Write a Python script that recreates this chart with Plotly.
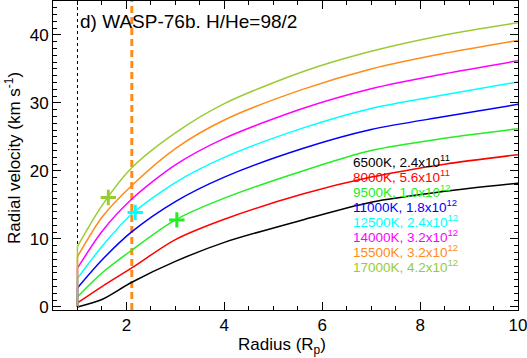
import plotly.graph_objects as go

# ---- data ----
RADIUS = [1.0, 1.5, 2.1, 3.0, 4.0, 5.6, 7.0, 8.5, 10.0]
V_6500 = [0.0, 1.1, 3.6, 6.7, 9.5, 12.8, 15.4, 17.0, 18.2]
V_8000 = [0.6, 3.0, 5.7, 9.9, 12.9, 16.6, 19.1, 21.0, 22.4]
V_9500 = [1.5, 5.0, 8.3, 12.8, 16.0, 20.0, 23.0, 24.8, 26.2]
V_11000 = [2.8, 6.9, 11.0, 15.5, 19.1, 23.3, 26.1, 28.0, 29.8]
V_12500 = [4.2, 8.9, 13.6, 18.3, 22.0, 26.3, 29.2, 31.2, 33.1]
V_14000 = [5.7, 11.1, 15.8, 20.9, 24.8, 29.2, 32.1, 34.3, 36.2]
V_15500 = [7.4, 13.2, 17.8, 23.3, 27.5, 32.0, 35.0, 37.3, 39.2]
V_17000 = [8.9, 14.9, 20.4, 25.6, 29.9, 34.6, 37.6, 40.0, 41.8]

SERIES = [V_6500, V_8000, V_9500, V_11000, V_12500, V_14000, V_15500, V_17000]
LABELS = ["6500K, 2.4x10<sup>11</sup>", "8000K, 5.6x10<sup>11</sup>",
          "9500K, 1.0x10<sup>12</sup>", "11000K, 1.8x10<sup>12</sup>",
          "12500K, 2.4x10<sup>12</sup>", "14000K, 3.2x10<sup>12</sup>",
          "15500K, 3.2x10<sup>12</sup>", "17000K, 4.2x10<sup>12</sup>"]
COLORS = ["#000000", "#FF0000", "#22EE22", "#0000FF",
          "#00FFFF", "#FF00FF", "#FF8C1A", "#99CC33"]

MARK_R = [1.63, 2.18, 3.03]
MARK_V = [16.1, 13.9, 12.8]
MARK_COLORS = ["#99CC33", "#00FFFF", "#22EE22"]

R_PLANET = 1.0
R_DASHED = 2.11
TITLE = "d) WASP-76b. H/He=98/2"

X_RANGE = [0.5, 10.0]
Y_RANGE = [-0.45, 45.0]

FONT = "Liberation Sans, Arial, sans-serif"

fig = go.Figure()

# vertical reference lines
fig.add_trace(go.Scatter(x=[R_PLANET, R_PLANET], y=Y_RANGE, mode="lines",
                         line=dict(color="black", width=1, dash="dot"),
                         hoverinfo="skip", showlegend=False))
fig.add_trace(go.Scatter(x=[R_DASHED, R_DASHED], y=Y_RANGE, mode="lines",
                         line=dict(color="#FF8C1A", width=3, dash="7px,4px"),
                         hoverinfo="skip", showlegend=False))

for vals, col in zip(SERIES, COLORS):
    # initial vertical rise at the planet surface
    fig.add_trace(go.Scatter(x=[RADIUS[0], RADIUS[0]], y=[0, vals[0]], mode="lines",
                             line=dict(color=col, width=1.5), showlegend=False))
    fig.add_trace(go.Scatter(x=RADIUS, y=vals, mode="lines",
                             line=dict(color=col, width=1.5, shape="spline", smoothing=0.8),
                             showlegend=False))

fig.add_trace(go.Scatter(x=MARK_R, y=MARK_V, mode="markers",
                         marker=dict(symbol="cross-thin", size=11,
                                     line=dict(color=MARK_COLORS, width=3)),
                         showlegend=False))

PL, PR, PT, PB = 53, 518, 1, 310
PW, PH = PR - PL, PB - PT

def px(xp):
    return (xp - PL) / PW

def py(yp):
    return (PB - yp) / PH

annotations = [dict(text=TITLE, xref="paper", yref="paper",
                    x=px(78), y=py(22),
                    xanchor="left", yanchor="middle", showarrow=False,
                    font=dict(family=FONT, size=19, color="black"))]

for i, (lab, col) in enumerate(zip(LABELS, COLORS)):
    yy = 161 + 15 * i
    annotations.append(dict(text=lab, xref="paper", yref="paper",
                            x=px(351), y=py(yy),
                            xanchor="left", yanchor="middle", showarrow=False,
                            font=dict(family=FONT, size=13.5, color=col)))

annotations.append(dict(text="Radius (R<sub>p</sub>)", xref="paper", yref="paper",
                        x=px(282), y=py(346), xanchor="center", yanchor="middle",
                        showarrow=False, font=dict(family=FONT, size=17, color="black")))
annotations.append(dict(text="Radial velocity (km s<sup>-1</sup>)", xref="paper", yref="paper",
                        x=px(13), y=py(158), xanchor="center", yanchor="middle",
                        textangle=-90, showarrow=False,
                        font=dict(family=FONT, size=17, color="black")))

fig.update_layout(
    width=527, height=358,
    margin=dict(l=PL, r=527 - PR, t=PT, b=358 - PB, autoexpand=False),
    paper_bgcolor="white", plot_bgcolor="white",
    font=dict(family=FONT, size=17, color="black"),
    annotations=annotations,
    showlegend=False,
)
fig.update_xaxes(range=X_RANGE, tickvals=[2, 4, 6, 8, 10], automargin=False,
                 ticks="inside", ticklen=8, tickwidth=1, tickcolor="black",
                 showline=True, linecolor="black", linewidth=1, mirror="allticks",
                 showgrid=False, zeroline=False, ticklabelstandoff=0,
                 ticklabeloverflow="allow",
                 minor=dict(dtick=0.5, tick0=0, ticks="inside", ticklen=4,
                            tickcolor="black", showgrid=False),
                 tickfont=dict(family=FONT, size=17))
fig.update_yaxes(range=Y_RANGE, tick0=0, dtick=10, automargin=False,
                 ticks="inside", ticklen=8, tickwidth=1, tickcolor="black",
                 showline=True, linecolor="black", linewidth=1, mirror="allticks",
                 showgrid=False, zeroline=False, ticklabeloverflow="allow",
                 minor=dict(dtick=1, tick0=0, ticks="inside", ticklen=4,
                            tickcolor="black", showgrid=False),
                 tickfont=dict(family=FONT, size=17))

fig.write_html("out.html", config={"displayModeBar": False},
               post_script="document.body.style.margin='0px';document.body.style.overflow='hidden';")
